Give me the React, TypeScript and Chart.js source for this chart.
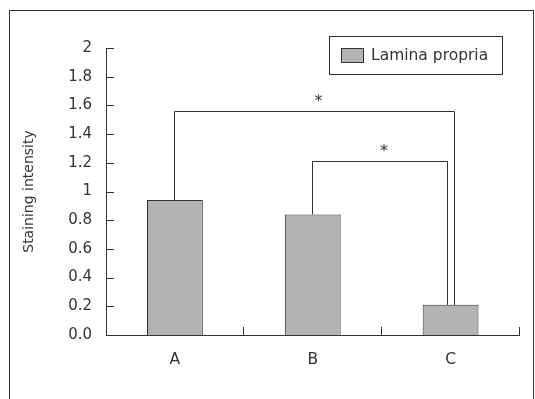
import React, { useEffect, useRef } from "react";
import { Chart, registerables } from "chart.js";

Chart.register(...registerables);

const categories = ["A", "B", "C"];
const seriesLabel = "Lamina propria";
const intensity = [0.94, 0.84, 0.21];
const yMin = 0;
const yMax = 2;
const yStep = 0.2;
const bracketFrom = [0, 1];
const bracketTo = [2, 2];
const bracketLevel = [1.56, 1.21];
const bracketMark = ["*", "*"];

const FONT = "'DejaVu Sans', 'Liberation Sans', sans-serif";
const INK = "#333333";
const FILL = "#b3b3b3";

const decorPlugin = {
  id: "decor",
  beforeDraw(chart: any) {
    const ctx = chart.ctx;
    ctx.save();
    ctx.fillStyle = "#ffffff";
    ctx.fillRect(0, 0, chart.width, chart.height);
    ctx.strokeStyle = INK;
    ctx.lineWidth = 1;
    ctx.strokeRect(9.5, 10.5, 524, 420);
    ctx.restore();
  },
  afterDraw(chart: any) {
    const ctx = chart.ctx;
    const x = chart.scales.x;
    const y = chart.scales.y;
    const area = chart.chartArea;
    ctx.save();
    ctx.strokeStyle = INK;
    ctx.lineWidth = 1;
    // inward y ticks
    y.ticks.forEach((t: any) => {
      const py = Math.round(y.getPixelForValue(t.value)) + 0.5;
      ctx.beginPath();
      ctx.moveTo(area.left, py);
      ctx.lineTo(area.left + 8, py);
      ctx.stroke();
    });
    // upward category boundary ticks on x axis
    const n = categories.length;
    const cw = (area.right - area.left) / n;
    for (let i = 0; i < n; i++) {
      const px = Math.round(x.getPixelForValue(i) + cw / 2) - 0.5;
      ctx.beginPath();
      ctx.moveTo(px, area.bottom);
      ctx.lineTo(px, area.bottom - 8);
      ctx.stroke();
    }
    // significance brackets
    const meta = chart.getDatasetMeta(0);
    const legOffsetRight = [3, -4];
    for (let b = 0; b < bracketLevel.length; b++) {
      const f = bracketFrom[b];
      const t = bracketTo[b];
      const x1 = Math.round(x.getPixelForValue(f)) - 0.5;
      const x2 = Math.round(x.getPixelForValue(t) + legOffsetRight[b]) + 0.5;
      const yTop = Math.round(y.getPixelForValue(bracketLevel[b])) + 0.5;
      const y1 = meta.data[f].y;
      const y2 = meta.data[t].y;
      ctx.beginPath();
      ctx.moveTo(x1, y1);
      ctx.lineTo(x1, yTop);
      ctx.lineTo(x2, yTop);
      ctx.lineTo(x2, y2);
      ctx.stroke();
      ctx.fillStyle = INK;
      ctx.font = `16px ${FONT}`;
      ctx.textAlign = "center";
      ctx.textBaseline = "middle";
      ctx.fillText(bracketMark[b], (x1 + x2) / 2 + 4, yTop - 10);
    }
    // legend
    ctx.strokeRect(329.5, 36.5, 173, 38);
    ctx.fillStyle = FILL;
    ctx.fillRect(341.5, 48.5, 22, 14);
    ctx.strokeRect(341.5, 48.5, 22, 14);
    ctx.fillStyle = INK;
    ctx.font = `15.5px ${FONT}`;
    ctx.textAlign = "left";
    ctx.textBaseline = "middle";
    ctx.fillText(chart.data.datasets[0].label, 371, 56);
    ctx.restore();
  },
};

export default function App() {
  const ref = useRef<HTMLCanvasElement | null>(null);
  useEffect(() => {
    if (!ref.current) return;
    const chart = new Chart(ref.current, {
      type: "bar",
      data: {
        labels: categories,
        datasets: [
          {
            label: seriesLabel,
            data: intensity,
            backgroundColor: FILL,
            borderColor: INK,
            borderWidth: 1,
            barPercentage: 0.405,
            categoryPercentage: 1,
          },
        ],
      },
      options: {
        responsive: false,
        animation: false,
        layout: { padding: { left: 0, top: 48, right: 15.5, bottom: 0 } },
        plugins: { legend: { display: false }, tooltip: { enabled: false } },
        scales: {
          x: {
            grid: { display: false, drawTicks: false },
            border: { display: true, color: INK, width: 1 },
            ticks: { color: INK, font: { family: FONT, size: 15.5 }, padding: 16 },
            afterFit: (s: any) => {
              s.height = 64;
            },
          },
          y: {
            min: yMin,
            max: yMax,
            grid: { display: false, drawTicks: false },
            border: { display: true, color: INK, width: 1 },
            ticks: {
              stepSize: yStep,
              color: INK,
              font: { family: FONT, size: 15 },
              padding: 14,
              callback: (v: any) => {
                const r = Math.round(Number(v) * 10) / 10;
                if (r === 0) return "0.0";
                if (Number.isInteger(r)) return String(r);
                return r.toFixed(1);
              },
            },
            title: {
              display: true,
              text: "Staining intensity",
              color: INK,
              font: { family: FONT, size: 14 },
              padding: { top: 21, bottom: 0 },
            },
            afterFit: (s: any) => {
              s.width = 106;
            },
          },
        },
      },
      plugins: [decorPlugin],
    });
    return () => chart.destroy();
  }, []);
  return (
    <canvas
      ref={ref}
      width={535}
      height={399}
      style={{ position: "fixed", left: 0, top: 0, display: "block" }}
    />
  );
}
